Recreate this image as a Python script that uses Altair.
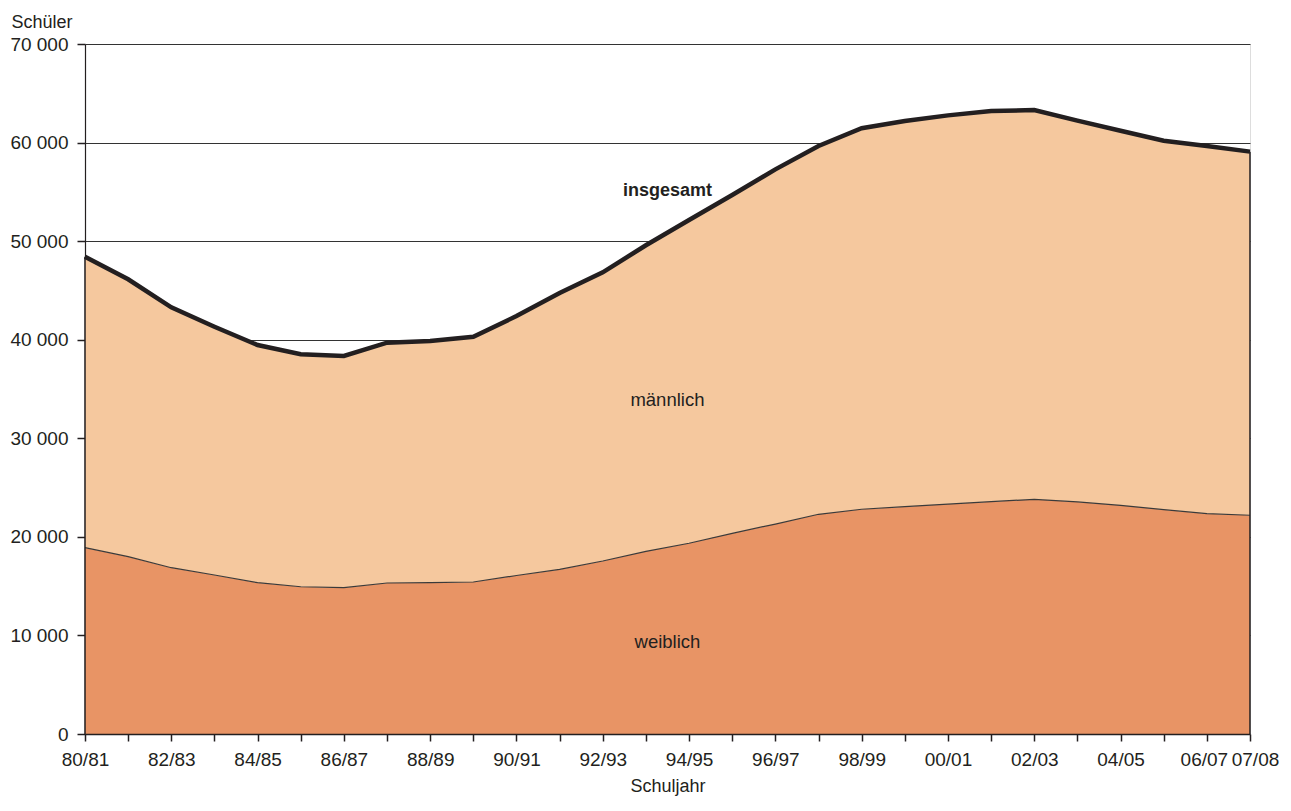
import altair as alt
import pandas as pd

years = ["80/81", "81/82", "82/83", "83/84", "84/85", "85/86", "86/87", "87/88",
         "88/89", "89/90", "90/91", "91/92", "92/93", "93/94", "94/95", "95/96",
         "96/97", "97/98", "98/99", "99/00", "00/01", "01/02", "02/03", "03/04",
         "04/05", "05/06", "06/07", "07/08"]
weiblich = [18900, 17990, 16870, 16130, 15350, 14940, 14840, 15320, 15350, 15420,
            16080, 16700, 17550, 18530, 19350, 20360, 21300, 22290, 22800, 23060,
            23330, 23570, 23810, 23540, 23200, 22760, 22350, 22190]
insgesamt = [48420, 46130, 43290, 41320, 39460, 38520, 38350, 39700, 39870, 40300,
             42400, 44750, 46840, 49580, 52150, 54680, 57280, 59650, 61450, 62190,
             62760, 63200, 63300, 62220, 61200, 60190, 59650, 59080]
labelled_years = ["80/81", "82/83", "84/85", "86/87", "88/89", "90/91", "92/93",
                  "94/95", "96/97", "98/99", "00/01", "02/03", "04/05", "06/07", "07/08"]
y_ticks = [0, 10000, 20000, 30000, 40000, 50000, 60000, 70000]

series_labels = ["insgesamt", "männlich", "weiblich"]
series_label_year = ["93/94", "93/94", "93/94"]
series_label_value = [55100, 33900, 9350]
series_label_bold = [True, False, False]

FONT = "Liberation Sans, Arial, Helvetica, sans-serif"
INK = "#231f20"

df = pd.DataFrame({
    "Schuljahr": years,
    "weiblich": weiblich,
    "insgesamt": insgesamt,
    "null": [0] * len(years),
})
edges = df[df["Schuljahr"].isin([years[0], years[-1]])]
lab = pd.DataFrame({
    "text": series_labels,
    "Schuljahr": series_label_year,
    "wert": series_label_value,
    "bold": series_label_bold,
})

lab_list = "[" + ",".join("'" + s + "'" for s in labelled_years) + "]"

x_enc = alt.X(
    "Schuljahr:N",
    sort=years,
    scale=alt.Scale(type="point", padding=0),
    axis=alt.Axis(
        title="Schuljahr",
        labelAngle=0,
        labelOverlap=False,
        labelExpr=f"indexof({lab_list}, datum.value) >= 0 ? datum.value : ''",
        labelOffset={"condition": [
            {"test": f"datum.value == '{years[-1]}'", "value": 5},
            {"test": f"datum.value == '{years[-2]}'", "value": -3},
        ], "value": 0},
        labelFont=FONT, labelFontSize=19, labelColor=INK, labelPadding=9,
        tickSize=7, tickColor=INK, tickWidth=1.5,
        domainColor=INK, domainWidth=1.5,
        titleFont=FONT, titleFontSize=18, titleFontWeight="normal", titleColor=INK,
        titleY=57, titleBaseline="alphabetic",
        grid=False, zindex=1,
    ),
)


def y_enc(field):
    return alt.Y(
        field,
        scale=alt.Scale(domain=[0, 70000], nice=False),
        stack=None,
        axis=alt.Axis(
            title="Schüler",
            values=y_ticks,
            labelExpr="replace(format(datum.value, ','), ',', ' ')",
            labelFont=FONT, labelFontSize=19, labelColor=INK, labelPadding=9,
            tickSize=8, tickColor=INK, tickWidth=1.5,
            domainColor=INK, domainWidth=1.2,
            grid=True, gridColor="#333333", gridWidth=1,
            titleFont=FONT, titleFontSize=18, titleFontWeight="normal", titleColor=INK,
            titleAngle=0, titleAlign="left", titleBaseline="alphabetic",
            titleX=-74, titleY=-17,
        ),
    )


base = alt.Chart(df)

area_w = base.mark_area(color="#e89465", opacity=1).encode(
    x=x_enc, y=y_enc("weiblich:Q"))
area_m = base.mark_area(color="#f5c89e", opacity=1).encode(
    x=x_enc, y=y_enc("insgesamt:Q"), y2="weiblich:Q")
line_w = base.mark_line(color="#3a3a3a", strokeWidth=1.2).encode(
    x=x_enc, y=y_enc("weiblich:Q"))
rules = alt.Chart(edges).mark_rule(color=INK, strokeWidth=1.5).encode(
    x=x_enc, y=y_enc("null:Q"), y2="insgesamt:Q")
line_t = base.mark_line(color=INK, strokeWidth=4.5, strokeJoin="miter").encode(
    x=x_enc, y=y_enc("insgesamt:Q"))

txt_bold = alt.Chart(lab[lab["bold"]]).mark_text(
    font=FONT, fontSize=18, fontWeight="bold", color=INK, dx=21.5, baseline="middle"
).encode(x=x_enc, y=y_enc("wert:Q"), text="text:N")
txt_norm = alt.Chart(lab[~lab["bold"]]).mark_text(
    font=FONT, fontSize=18.5, color=INK, dx=21.5, baseline="middle"
).encode(x=x_enc, y=y_enc("wert:Q"), text="text:N")

chart = alt.layer(area_w, area_m, line_w, rules, line_t, txt_bold, txt_norm).properties(
    width=1165,
    height=690,
    autosize=alt.AutoSizeParams(type="none"),
    padding={"left": 77, "top": 36, "right": 32, "bottom": 64},
).configure_view(stroke=None).configure(background="white")

chart.save("out.html", embed_options={"renderer": "svg", "actions": False})
